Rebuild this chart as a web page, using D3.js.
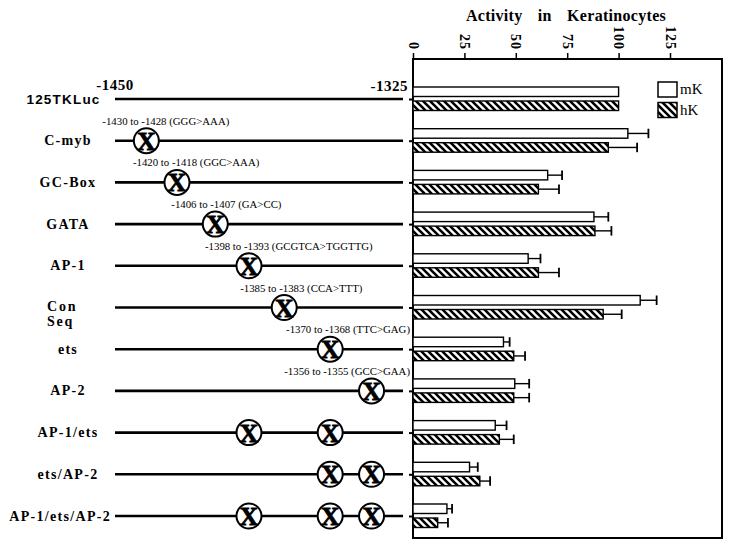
<!DOCTYPE html>
<html>
<head>
<meta charset="utf-8">
<script src="https://cdnjs.cloudflare.com/ajax/libs/d3/7.8.5/d3.min.js"></script>
<style>
  body { margin: 0; background: #fff; }
  text { font-family: "Liberation Serif", "Times New Roman", serif; fill: #000; }
</style>
</head>
<body>
<svg id="chart" width="731" height="547"></svg>
<script>
// constructs, top to bottom
var constructs = ["125TKLuc", "C-myb", "GC-Box", "GATA", "AP-1", "Con Seq", "ets", "AP-2", "AP-1/ets", "ets/AP-2", "AP-1/ets/AP-2"];
// activity in keratinocytes (% of 125TKLuc)
var mK = [100, 104.5, 65.5, 88, 56, 110.5, 44, 49.5, 40, 27.5, 16.5];
var mKErr = [0, 10, 7, 7, 6, 8, 3, 7, 5.5, 4, 2.5];
var hK = [100, 95, 61, 88.5, 61, 92.5, 49, 49, 42, 32.5, 12];
var hKErr = [0, 14, 10, 8, 10, 9, 5.5, 7.5, 7, 5, 5];
var ticks = [0, 25, 50, 75, 100, 125];

// mutated sites
var sites = ["C-myb", "GC-Box", "GATA", "AP-1", "Con Seq", "ets", "AP-2"];
var siteFrom = [-1430, -1420, -1406, -1398, -1385, -1370, -1356];
var siteTo = [-1428, -1418, -1407, -1393, -1383, -1368, -1355];
var siteChange = ["GGG>AAA", "GGC>AAA", "GA>CC", "GCGTCA>TGGTTG", "CCA>TTT", "TTC>GAG", "GCC>GAA"];
var mutated = [[], ["C-myb"], ["GC-Box"], ["GATA"], ["AP-1"], ["Con Seq"], ["ets"], ["AP-2"],
  ["AP-1", "ets"], ["ets", "AP-2"], ["AP-1", "ets", "AP-2"]];

var svg = d3.select("#chart");

var boxL = 413, boxR = 722, boxT = 59, boxB = 538;
var lineX0 = 115, lineX1 = 403;

var x = d3.scaleLinear().domain([0, 125]).range([boxL, 670]);
var y = d3.scalePoint().domain(constructs).range([99, 516]);
// schematic promoter coordinate (not drawn to scale)
var pos = d3.scaleLinear().domain([-1450, -1325]).range([82, 465]);

var defs = svg.append("defs");
var pat = defs.append("pattern")
  .attr("id", "hatch")
  .attr("patternUnits", "userSpaceOnUse")
  .attr("width", 7).attr("height", 7);
pat.append("rect").attr("width", 7).attr("height", 7).attr("fill", "#fff");
pat.append("path")
  .attr("d", "M0,0L7,7M-3.5,3.5L3.5,10.5M3.5,-3.5L10.5,3.5")
  .attr("stroke", "#000")
  .attr("stroke-width", 2.6);

// title
svg.append("text")
  .attr("x", 566).attr("y", 21)
  .attr("text-anchor", "middle")
  .style("font-size", "16px").style("font-weight", "bold")
  .style("word-spacing", "11px").style("letter-spacing", "0.3px")
  .text("Activity in Keratinocytes");

// top axis
var gx = svg.append("g")
  .attr("transform", "translate(0," + boxT + ")")
  .call(d3.axisTop(x).tickValues(ticks).tickSize(6).tickSizeOuter(0));
gx.select(".domain").remove();
gx.selectAll(".tick line").attr("stroke", "#000").attr("stroke-width", 1.5);
gx.selectAll(".tick text")
  .attr("x", 0).attr("y", 0).attr("dy", "0.35em")
  .attr("transform", "translate(0,-9) rotate(90)")
  .attr("text-anchor", "end")
  .style("font-family", "'Liberation Serif', serif")
  .style("font-size", "14px").style("font-weight", "bold")
  .style("letter-spacing", "1px");

// left ticks
var gy = svg.append("g")
  .attr("transform", "translate(" + boxL + ",0)")
  .call(d3.axisLeft(y).tickSize(4).tickFormat(""));
gy.select(".domain").remove();
gy.selectAll(".tick line").attr("stroke", "#000").attr("stroke-width", 2);

// frame
svg.append("rect")
  .attr("x", boxL).attr("y", boxT)
  .attr("width", boxR - boxL).attr("height", boxB - boxT)
  .attr("fill", "none").attr("stroke", "#000").attr("stroke-width", 2);

// bars
var barH = 9.5;
var rows = constructs.map(function(c, i) {
  return { name: c, mK: mK[i], mKErr: mKErr[i], hK: hK[i], hKErr: hKErr[i], sites: mutated[i] };
});

var series = [
  { key: "mK", err: "mKErr", dy: -12, fill: "#fff" },
  { key: "hK", err: "hKErr", dy: 2, fill: "url(#hatch)" }
];

series.forEach(function(s) {
  var g = svg.append("g");
  g.selectAll("rect").data(rows).enter().append("rect")
    .attr("x", x(0))
    .attr("y", function(d) { return y(d.name) + s.dy; })
    .attr("width", function(d) { return x(d[s.key]) - x(0); })
    .attr("height", barH)
    .attr("fill", s.fill)
    .attr("stroke", "#000").attr("stroke-width", 1.4);

  var eb = g.selectAll(".err").data(rows.filter(function(d) { return d[s.err] > 0; }))
    .enter().append("g").attr("class", "err");
  eb.append("line")
    .attr("x1", function(d) { return x(d[s.key]); })
    .attr("x2", function(d) { return x(d[s.key] + d[s.err]); })
    .attr("y1", function(d) { return y(d.name) + s.dy + barH / 2; })
    .attr("y2", function(d) { return y(d.name) + s.dy + barH / 2; })
    .attr("stroke", "#000").attr("stroke-width", 1.4);
  eb.append("line")
    .attr("x1", function(d) { return x(d[s.key] + d[s.err]); })
    .attr("x2", function(d) { return x(d[s.key] + d[s.err]); })
    .attr("y1", function(d) { return y(d.name) + s.dy; })
    .attr("y2", function(d) { return y(d.name) + s.dy + barH; })
    .attr("stroke", "#000").attr("stroke-width", 1.8);
});

// legend
var legend = svg.append("g");
[{ label: "mK", fill: "#fff" }, { label: "hK", fill: "url(#hatch)" }].forEach(function(l, i) {
  legend.append("rect")
    .attr("x", 658).attr("y", 82 + i * 20.5)
    .attr("width", 19).attr("height", 15)
    .attr("fill", l.fill).attr("stroke", "#000").attr("stroke-width", 1.5);
  legend.append("text")
    .attr("x", 680).attr("y", 94 + i * 20.5)
    .style("font-size", "15px")
    .text(l.label);
});

// promoter schematics
var schem = svg.append("g");
schem.selectAll("line.dna").data(rows).enter().append("line")
  .attr("class", "dna")
  .attr("x1", lineX0).attr("x2", lineX1)
  .attr("y1", function(d) { return y(d.name); })
  .attr("y2", function(d) { return y(d.name); })
  .attr("stroke", "#000").attr("stroke-width", 2.6);

schem.append("text")
  .attr("x", lineX0).attr("y", y(constructs[0]) - 9)
  .attr("text-anchor", "middle")
  .style("font-size", "15px").style("font-weight", "bold").style("letter-spacing", "0.5px")
  .text("-1450");
schem.append("text")
  .attr("x", 408).attr("y", y(constructs[0]) - 8)
  .attr("text-anchor", "end")
  .style("font-size", "15px").style("font-weight", "bold").style("letter-spacing", "0.5px")
  .text("-1325");

// row labels
rows.forEach(function(d, i) {
  var t = schem.append("text")
    .attr("x", 68).attr("y", y(d.name) + 4.5)
    .attr("text-anchor", "middle")
    .style("font-weight", "bold");
  if (i === 0) {
    t.attr("x", 63.5)
      .style("font-family", "'Liberation Sans', Arial, sans-serif")
      .style("font-size", "13.5px").style("letter-spacing", "1.2px")
      .text(d.name);
  } else if (d.name === "Con Seq") {
    t.attr("text-anchor", "start").attr("x", 47)
      .style("font-size", "14px").style("letter-spacing", "1.8px");
    d.name.split(" ").forEach(function(w, k) {
      t.append("tspan").attr("x", 47).attr("y", y(d.name) + 3 + k * 15).text(w);
    });
  } else {
    t.style("font-size", "14px").style("letter-spacing", "1.3px").text(d.name);
    var w = t.node().getComputedTextLength();
    if (68 + w / 2 > 111) t.attr("x", 111 - w / 2);
  }
});

// mutation markers
rows.forEach(function(d) {
  d.sites.forEach(function(s) {
    var k = sites.indexOf(s);
    var cx = pos((siteFrom[k] + siteTo[k]) / 2);
    var cy = y(d.name);
    schem.append("circle")
      .attr("cx", cx).attr("cy", cy).attr("r", 12.5)
      .attr("fill", "#fff").attr("stroke", "#000").attr("stroke-width", 2);
    schem.append("text")
      .attr("x", cx).attr("y", cy + 9)
      .attr("text-anchor", "middle")
      .style("font-size", "26px").style("font-weight", "bold")
      .style("stroke", "#000").style("stroke-width", "0.8px")
      .text("X");
    if (d.sites.length === 1) {
      var lab = schem.append("text")
        .attr("x", cx - 44).attr("y", cy - 16)
        .style("font-size", "10.8px")
        .text(siteFrom[k] + " to " + siteTo[k] + " (" + siteChange[k] + ")");
      var lw = lab.node().getComputedTextLength();
      if (cx - 44 + lw > 410) lab.attr("x", 410 - lw);
    }
  });
});
</script>
</body>
</html>
